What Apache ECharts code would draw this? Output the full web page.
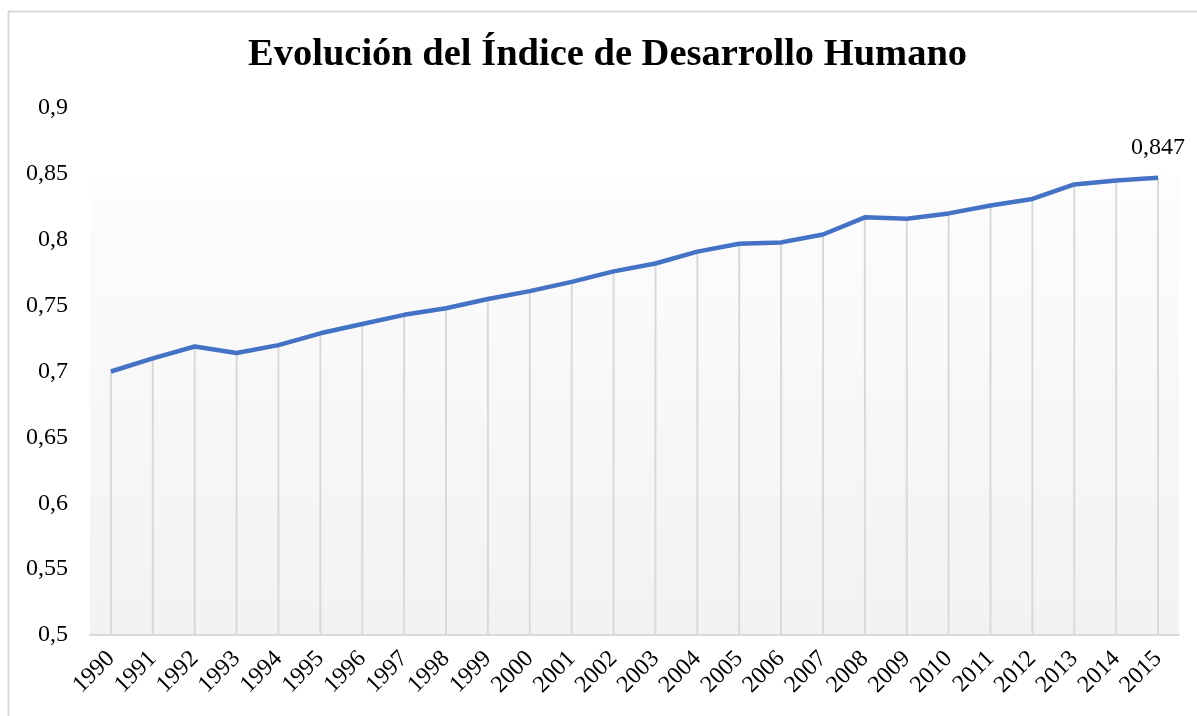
<!DOCTYPE html>
<html>
<head>
<meta charset="utf-8">
<script src="https://cdn.jsdelivr.net/npm/echarts@6/dist/echarts.min.js"></script>
<style>
  html, body { margin: 0; padding: 0; background: #fff; }
  #chart { width: 1197px; height: 716px; }
</style>
</head>
<body>
<div id="chart"></div>
<script>
// años del eje X
const years = ['1990', '1991', '1992', '1993', '1994', '1995', '1996', '1997', '1998', '1999',
  '2000', '2001', '2002', '2003', '2004', '2005', '2006', '2007', '2008', '2009',
  '2010', '2011', '2012', '2013', '2014', '2015'];
// valores del IDH
const idh = [0.700, 0.710, 0.719, 0.714, 0.720, 0.729, 0.736, 0.743, 0.748, 0.755,
  0.761, 0.768, 0.776, 0.782, 0.791, 0.797, 0.798, 0.804, 0.817, 0.816,
  0.820, 0.826, 0.831, 0.842, 0.845, 0.847];
const yMin = 0.5;
const yMax = 0.9;
const yStep = 0.05;

const serif = "'Liberation Serif', 'Times New Roman', serif";
const fmt = (v) => String(+v.toFixed(3)).replace('.', ',');

const chart = echarts.init(document.getElementById('chart'));

// solo el último punto lleva etiqueta
const lineData = idh.map((v, i) => (i === idh.length - 1
  ? { value: v, label: { show: true } }
  : v));

chart.setOption({
  animation: false,
  title: {
    text: 'Evolución del Índice de Desarrollo Humano',
    left: 243,
    top: 31,
    textStyle: { fontFamily: serif, fontSize: 38.5, fontWeight: 'bold', color: '#000' },
  },
  graphic: [{
    type: 'rect',
    silent: true,
    shape: { x: 8.5, y: 11.5, width: 1250, height: 760 },
    style: { fill: 'none', stroke: '#d9d9d9', lineWidth: 2 },
  }],
  grid: { left: 90, right: 18, top: 108, bottom: 81, containLabel: false },
  xAxis: {
    type: 'category',
    data: years,
    boundaryGap: true,
    axisLine: { show: true, lineStyle: { color: '#d9d9d9', width: 2 } },
    axisTick: { show: false },
    splitLine: { show: false },
    axisLabel: {
      rotate: 45,
      interval: 0,
      margin: 20,
      fontFamily: serif,
      fontSize: 24,
      color: '#000',
    },
  },
  yAxis: {
    type: 'value',
    min: yMin,
    max: yMax,
    interval: yStep,
    axisLine: { show: false },
    axisTick: { show: false },
    splitLine: { show: false },
    axisLabel: {
      margin: 22,
      fontFamily: serif,
      fontSize: 24,
      color: '#000',
      formatter: (v) => fmt(v),
    },
  },
  series: [
    {
      // líneas de caída
      type: 'bar',
      data: idh,
      barWidth: 2,
      silent: true,
      z: 1,
      itemStyle: { color: '#d9d9d9' },
      markArea: {
        silent: true,
        z: 0,
        itemStyle: {
          color: new echarts.graphic.LinearGradient(0, 0, 0, 1, [
            { offset: 0, color: '#fdfdfd' },
            { offset: 1, color: '#f2f2f2' },
          ]),
        },
        data: [[{ yAxis: yMin }, { yAxis: 0.849 }]],
      },
    },
    {
      type: 'line',
      data: lineData,
      z: 3,
      showSymbol: true,
      symbol: 'circle',
      symbolSize: 0,
      lineStyle: { color: '#4472c4', width: 4.5 },
      itemStyle: { color: '#4472c4' },
      label: {
        show: false,
        position: 'top',
        distance: 18,
        fontFamily: serif,
        fontSize: 24,
        color: '#000',
        formatter: (p) => fmt(p.value),
      },
    },
  ],
});
</script>
</body>
</html>
